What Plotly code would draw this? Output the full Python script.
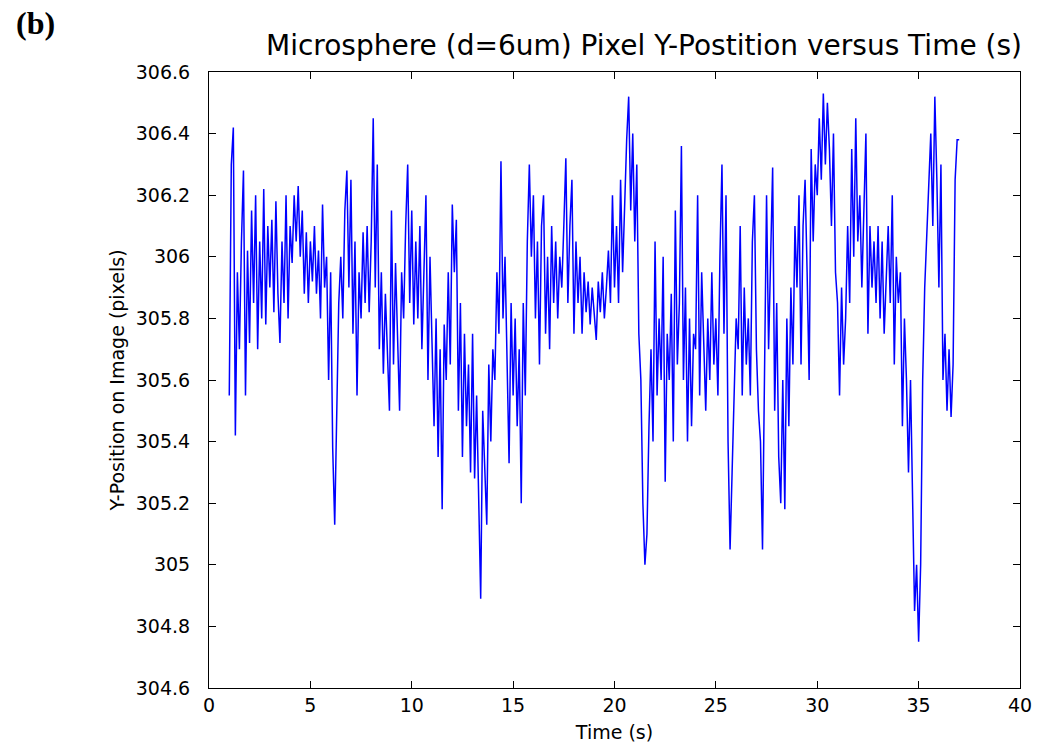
import plotly.graph_objects as go

t_start = 1.0   # first sample time (s)
t_step = 0.1    # sampling interval (s)

y_pos = [
    305.55, 306.30, 306.42, 305.42, 305.95, 305.70, 306.05, 306.28, 305.55, 306.02,
    305.72, 306.15, 305.85, 306.20, 305.70, 306.05, 305.80, 306.22, 305.78, 306.10,
    305.90, 306.12, 305.82, 306.18, 305.88, 305.72, 306.05, 305.85, 306.20, 305.80,
    306.10, 305.98, 306.20, 306.05, 306.23, 306.00, 306.15, 305.88, 306.08, 305.85,
    306.05, 305.92, 306.10, 305.88, 306.02, 305.80, 306.17, 305.90, 306.00, 305.60,
    305.95, 305.38, 305.13, 305.55, 305.85, 306.00, 305.80, 306.15, 306.28, 305.90,
    306.25, 305.75, 306.05, 305.55, 305.95, 305.80, 306.08, 305.85, 306.10, 305.82,
    306.05, 306.45, 305.90, 306.30, 305.70, 305.95, 305.62, 305.88, 305.70, 305.50,
    306.15, 305.65, 305.98, 305.72, 305.50, 305.95, 305.80, 306.10, 306.30, 305.85,
    306.15, 305.78, 306.05, 305.80, 306.10, 305.70, 305.98, 306.20, 305.60, 306.00,
    305.72, 305.45, 305.80, 305.35, 305.70, 305.18, 305.78, 305.60, 305.95, 305.65,
    306.17, 305.95, 306.12, 305.50, 305.85, 305.35, 305.75, 305.45, 305.65, 305.30,
    305.75, 305.28, 305.55, 305.23, 304.89, 305.50, 305.30, 305.13, 305.65, 305.40,
    305.70, 305.60, 305.95, 305.75, 306.31, 305.80, 306.00, 305.60, 305.33, 305.85,
    305.55, 305.80, 305.45, 305.70, 305.20, 305.85, 305.55, 306.05, 306.30, 306.00,
    306.20, 305.80, 306.05, 305.65, 306.10, 306.20, 305.75, 306.00, 305.70, 306.10,
    305.85, 306.05, 305.80, 306.00, 305.90, 306.10, 306.32, 305.85, 306.10, 306.25,
    305.75, 306.05, 305.85, 306.00, 305.75, 305.95, 305.82, 305.92, 305.78, 305.90,
    305.80, 305.73, 305.92, 305.82, 305.95, 305.80, 305.90, 306.02, 305.85, 306.20,
    305.90, 306.10, 305.85, 306.25, 305.95, 306.20, 306.38, 306.52, 306.15, 306.40,
    306.05, 306.30, 305.75, 305.60, 305.20, 305.00, 305.10, 305.45, 305.70, 305.40,
    306.05, 305.55, 305.80, 305.60, 306.00, 305.27, 305.75, 305.60, 305.88, 305.40,
    306.15, 305.65, 305.85, 306.36, 305.60, 305.90, 305.40, 305.80, 305.45, 305.75,
    305.70, 306.20, 305.55, 305.95, 305.75, 305.50, 305.80, 305.60, 305.95, 305.65,
    305.80, 305.55, 306.00, 306.30, 305.75, 306.20, 305.40, 305.05, 305.30, 305.55,
    305.80, 305.70, 306.10, 305.55, 305.90, 305.65, 305.80, 305.55, 306.05, 306.20,
    305.70, 305.50, 305.40, 305.05, 305.75, 306.20, 305.70, 306.00, 306.29, 305.50,
    305.85, 305.35, 305.20, 305.60, 305.18, 305.80, 305.45, 305.90, 305.65, 306.10,
    305.90, 306.20, 305.65, 306.10, 306.25, 305.95, 305.60, 306.35, 306.05, 306.30,
    306.20, 306.45, 306.25, 306.53, 306.30, 306.50, 306.35, 306.10, 306.40, 305.95,
    305.85, 305.55, 305.90, 305.65, 305.80, 306.10, 305.85, 306.35, 306.00, 306.45,
    306.05, 306.20, 305.90, 306.15, 306.40, 305.75, 306.10, 305.90, 306.05, 305.85,
    306.10, 305.80, 306.05, 305.75, 305.95, 306.10, 305.85, 306.20, 305.65, 306.00,
    305.85, 305.95, 305.45, 305.80, 305.60, 305.30, 305.60, 305.15, 304.85, 305.00,
    304.75, 305.00, 305.60, 305.90, 306.05, 306.20, 306.40, 306.10, 306.52, 306.25,
    305.90, 306.30, 305.60, 305.75, 305.50, 305.70, 305.48, 305.65, 306.25, 306.38,
    306.38,
]
time_s = [round(t_start + i * t_step, 3) for i in range(len(y_pos))]

x_ticks = [0, 5, 10, 15, 20, 25, 30, 35, 40]
y_ticks = [304.6, 304.8, 305.0, 305.2, 305.4, 305.6, 305.8, 306.0, 306.2, 306.4, 306.6]
y_ticktext = ["304.6", "304.8", "305", "305.2", "305.4", "305.6", "305.8", "306", "306.2", "306.4", "306.6"]

FONT = "DejaVu Sans, Liberation Sans, Arial"

fig = go.Figure()
fig.add_trace(go.Scatter(x=time_s, y=y_pos, mode="lines",
                         line=dict(color="rgb(0,0,255)", width=1.5),
                         showlegend=False, hoverinfo="skip"))

axis_common = dict(showgrid=False, zeroline=False, showline=True, linecolor="black",
                   linewidth=1, mirror="ticks", ticks="inside", ticklen=7,
                   tickcolor="black", tickwidth=1,
                   tickfont=dict(family=FONT, size=19, color="black"))

fig.update_layout(
    width=1044, height=751,
    margin=dict(l=209, r=19, t=72, b=62),
    paper_bgcolor="white", plot_bgcolor="white",
    title=dict(text="Microsphere (d=6um) Pixel Y-Postition versus Time (s)",
               x=644 / 1044, xanchor="center", y=1 - 45 / 751, yanchor="middle",
               font=dict(family=FONT, size=28, color="black")),
    xaxis=dict(range=[0, 40], tickvals=x_ticks, ticktext=[str(v) for v in x_ticks],
               title=dict(text="Time (s)", standoff=10,
                          font=dict(family=FONT, size=19, color="black")),
               **axis_common),
    yaxis=dict(range=[304.6, 306.6], tickvals=y_ticks, ticktext=y_ticktext,
               ticklabelstandoff=14,
               title=dict(text="Y-Position on Image (pixels)", standoff=6,
                          font=dict(family=FONT, size=19, color="black")),
               **axis_common),
    annotations=[dict(text="<b>(b)</b>", xref="paper", yref="paper",
                      x=-196 / 816, y=1 + 49 / 617, xanchor="left", yanchor="middle",
                      showarrow=False,
                      font=dict(family="Liberation Serif, Times New Roman", size=32, color="black"))],
)

fig.write_html("out.html")
